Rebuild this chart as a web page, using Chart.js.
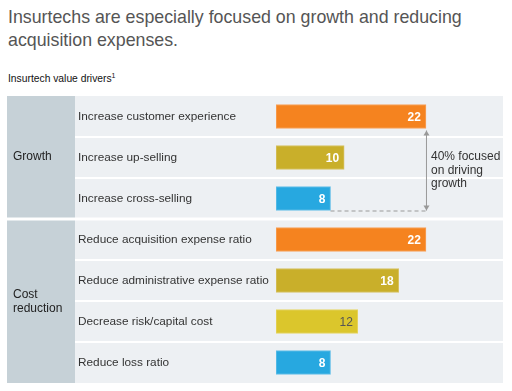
<!DOCTYPE html>
<html>
<head>
<meta charset="utf-8">
<script src="https://cdn.jsdelivr.net/npm/chart.js@4/dist/chart.umd.min.js"></script>
<style>
  html, body { margin: 0; padding: 0; background: #fff; }
  body { width: 512px; height: 391px; position: relative; overflow: hidden; font-family: "Liberation Sans", Arial, sans-serif; }
  #title { position: absolute; left: 8px; top: 6px; font-size: 17.8px; line-height: 23px; color: #555; }
  #subtitle { position: absolute; left: 8px; top: 72px; font-size: 10.3px; color: #111; }
  #subtitle sup { font-size: 7px; }
  #wrap { position: absolute; left: 0; top: 0; width: 512px; height: 391px; }
</style>
</head>
<body>
<div id="title">Insurtechs are especially focused on growth and reducing<br>acquisition expenses.</div>
<div id="subtitle">Insurtech value drivers<sup>1</sup></div>
<div id="wrap"><canvas id="chart" width="512" height="391"></canvas></div>
<script>
const categories = [
  'Increase customer experience',
  'Increase up-selling',
  'Increase cross-selling',
  'Reduce acquisition expense ratio',
  'Reduce administrative expense ratio',
  'Decrease risk/capital cost',
  'Reduce loss ratio'
];
const values = [22, 10, 8, 22, 18, 12, 8];
const barColors = ['#f5831f', '#c9af2a', '#27a8e0', '#f5831f', '#c9af2a', '#dbc62c', '#27a8e0'];
const borderColors = ['#f8a25c', '#d7c263', '#67c0e8', '#f8a25c', '#d7c263', '#e6d462', '#67c0e8'];
const labelColors = ['#fff', '#fff', '#fff', '#fff', '#fff', '#555', '#fff'];
const groups = [
  { name: ['Growth'], from: 0, to: 2 },
  { name: ['Cost', 'reduction'], from: 3, to: 6 }
];
const noteLines = ['40% focused', 'on driving', 'growth'];

const FONT = '"Liberation Sans", Arial, sans-serif';

// row backgrounds, left group column and row labels
const panelPlugin = {
  id: 'panel',
  beforeDatasetsDraw(chart) {
    const { ctx, scales: { y }, chartArea } = chart;
    const rowH = y.getPixelForValue(1) - y.getPixelForValue(0);
    const leftX = 7, colEnd = 75, right = chartArea.right;
    ctx.save();
    groups.forEach((g, gi) => {
      const top = y.getPixelForValue(g.from) - rowH / 2 + (gi > 0 ? 1.5 : 0);
      const bot = y.getPixelForValue(g.to) + rowH / 2 - (gi < groups.length - 1 ? 1.5 : 0);
      ctx.fillStyle = '#c6d1d7';
      ctx.fillRect(leftX, top, colEnd - leftX, bot - top);
      ctx.fillStyle = '#edf0f3';
      ctx.fillRect(colEnd, top, right - colEnd, bot - top);
      // separators between rows
      ctx.fillStyle = '#ffffff';
      for (let i = g.from + 1; i <= g.to; i++) {
        const yy = y.getPixelForValue(i) - rowH / 2;
        ctx.fillRect(colEnd, yy - 1, right - colEnd, 2);
      }
      // group label
      ctx.fillStyle = '#222';
      ctx.font = '12px ' + FONT;
      ctx.textBaseline = 'middle';
      ctx.textAlign = 'left';
      const mid = (top + bot) / 2;
      const lh = 14;
      g.name.forEach((t, k) => {
        ctx.fillText(t, 13, mid + (k - (g.name.length - 1) / 2) * lh);
      });
    });
    // category labels
    ctx.fillStyle = '#333';
    ctx.font = '11.8px ' + FONT;
    categories.forEach((c, i) => {
      ctx.fillText(c, 78, y.getPixelForValue(i));
    });
    ctx.restore();
  },
  afterDatasetsDraw(chart) {
    const { ctx, scales: { x, y } } = chart;
    const meta = chart.getDatasetMeta(0);
    ctx.save();
    // value labels
    meta.data.forEach((bar, i) => {
      const v = values[i];
      ctx.fillStyle = labelColors[i];
      ctx.font = (labelColors[i] === '#fff' ? 'bold ' : '') + '12px ' + FONT;
      ctx.textAlign = 'right';
      ctx.textBaseline = 'middle';
      ctx.fillText(String(v), bar.x - 5, bar.y + 1);
    });
    // annotation: bracket arrow from the growth leader to the last growth bar
    const first = meta.data[0], last = meta.data[2];
    const ax = x.getPixelForValue(values[0]);
    const y1 = first.y + first.height / 2 + 2;
    const y2 = last.y + last.height / 2;
    ctx.strokeStyle = '#999';
    ctx.lineWidth = 1;
    ctx.setLineDash([4, 3]);
    ctx.beginPath();
    ctx.moveTo(last.x, y2 + 0.5);
    ctx.lineTo(ax, y2 + 0.5);
    ctx.stroke();
    ctx.setLineDash([]);
    ctx.beginPath();
    ctx.moveTo(ax + 0.5, y1);
    ctx.lineTo(ax + 0.5, y2);
    ctx.stroke();
    ctx.fillStyle = '#999';
    ctx.beginPath();
    ctx.moveTo(ax + 0.5, y1); ctx.lineTo(ax - 2.5, y1 + 5); ctx.lineTo(ax + 3.5, y1 + 5); ctx.closePath(); ctx.fill();
    ctx.beginPath();
    ctx.moveTo(ax + 0.5, y2); ctx.lineTo(ax - 2.5, y2 - 5); ctx.lineTo(ax + 3.5, y2 - 5); ctx.closePath(); ctx.fill();
    ctx.fillStyle = '#333';
    ctx.font = '12px ' + FONT;
    ctx.textAlign = 'left';
    const ny = (y1 + y2) / 2;
    noteLines.forEach((t, k) => {
      ctx.fillText(t, ax + 5, ny + (k - 1) * 13.5);
    });
    ctx.restore();
  }
};

new Chart(document.getElementById('chart'), {
  type: 'bar',
  data: {
    labels: categories,
    datasets: [{
      data: values,
      backgroundColor: barColors,
      borderColor: borderColors,
      borderWidth: 1,
      barThickness: 24,
      borderSkipped: false
    }]
  },
  options: {
    indexAxis: 'y',
    responsive: false,
    animation: false,
    layout: { padding: { left: 276, right: 9, top: 96, bottom: 8 } },
    plugins: { legend: { display: false }, tooltip: { enabled: false } },
    scales: {
      x: { display: false, min: 0, max: 33.3 },
      y: { display: false }
    }
  },
  plugins: [panelPlugin]
});
</script>
</body>
</html>
